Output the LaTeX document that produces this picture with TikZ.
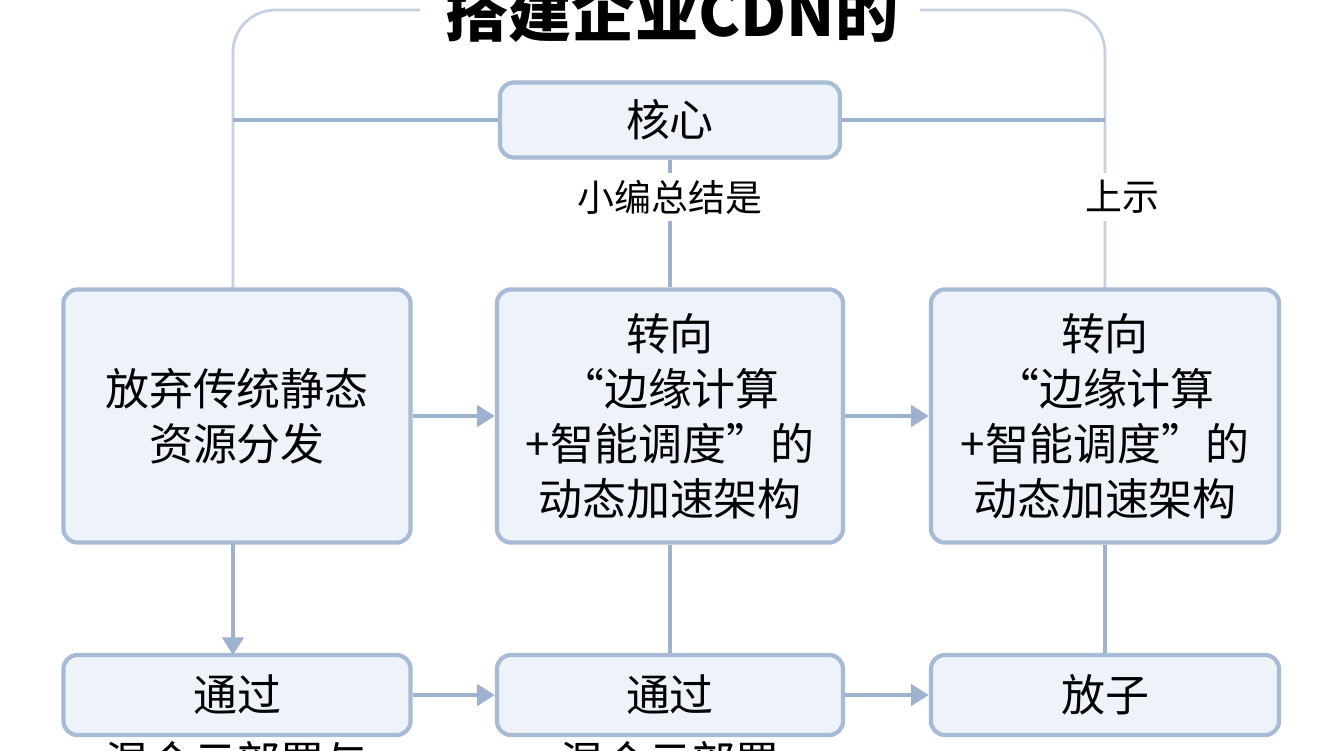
\documentclass[tikz,border=0pt]{standalone}
\usepackage{fontspec}
\setmainfont{Noto Sans CJK SC}
\usetikzlibrary{arrows.meta}

\definecolor{boxfill}{HTML}{EEF3FA}
\definecolor{boxline}{HTML}{A8BBD6}
\definecolor{linkline}{HTML}{9DB2CF}

\tikzset{
	box/.style={draw=boxline, fill=boxfill, line width=1.2pt, rounded corners=4pt,
		align=center, inner sep=0pt, font=\fontsize{12.5}{15.6}\selectfont},
	link/.style={draw=linkline, line width=1.1pt},
	arr/.style={link, -{Triangle[length=5pt, width=6pt]}},
	tag/.style={font=\fontsize{10.5}{13}\selectfont, fill=white, inner sep=2pt}
}

\begin{document}
\begin{tikzpicture}[x=0.01cm, y=-0.01cm]
	\useasboundingbox (0,0) rectangle (1344,750);
	\clip (0,0) rectangle (1344,750);
	\fill[white] (0,0) rectangle (1344,750);

	% frame
	\draw[link, line width=0.8pt, draw=linkline!60, rounded corners=12pt]
		(420,10) -- (233,10) -- (233,290);
	\draw[link, line width=0.8pt, draw=linkline!60, rounded corners=12pt]
		(920,10) -- (1105,10) -- (1105,290);
	\node[font=\fontsize{18}{22}\selectfont\bfseries] (title) at (672,12) {搭建企业CDN的};

	% boxes
	\node[box, minimum width=3.4cm, minimum height=0.75cm] (core) at (670,120) {核心};
	\node[box, minimum width=3.47cm, minimum height=2.53cm] (a2) at (237,416) {放弃传统静态\\资源分发};
	\node[box, minimum width=3.46cm, minimum height=2.53cm] (b2) at (670,416) {转向\\“边缘计算\\+智能调度”的\\动态加速架构};
	\node[box, minimum width=3.48cm, minimum height=2.53cm] (c2) at (1105,416) {转向\\“边缘计算\\+智能调度”的\\动态加速架构};
	\node[box, minimum width=3.47cm, minimum height=0.8cm] (a3) at (237,695) {通过};
	\node[box, minimum width=3.46cm, minimum height=0.8cm] (b3) at (670,695) {通过};
	\node[box, minimum width=3.48cm, minimum height=0.8cm] (c3) at (1105,695) {放子};
	\node[font=\fontsize{12.5}{15.6}\selectfont] (a3x) at (237,762) {混合云部署与};
	\node[font=\fontsize{12.5}{15.6}\selectfont] (b3x) at (670,762) {混合云部署};

	% links
	\coordinate (jl) at (233,120);
	\coordinate (jr) at (1105,120);
	\coordinate (ab) at (233,543);
	\coordinate (at) at (233,655);
	\draw[link] (core.west) -- (jl);
	\draw[link] (core.east) -- (jr);
	\draw[link] (core.south) -- (b2.north);
	\node[tag] (t1) at (670,197) {小编总结是};
	\node[tag] (t2) at (1122,197) {上示};

	\draw[arr] (a2.east) -- (b2.west);
	\draw[arr] (b2.east) -- (c2.west);
	\draw[arr] (ab) -- (at);
	\draw[link] (b2.south) -- (b3.north);
	\draw[link] (c2.south) -- (c3.north);
	\draw[arr] (a3) -- (b3);
	\draw[arr] (b3) -- (c3);
\end{tikzpicture}
\end{document}
